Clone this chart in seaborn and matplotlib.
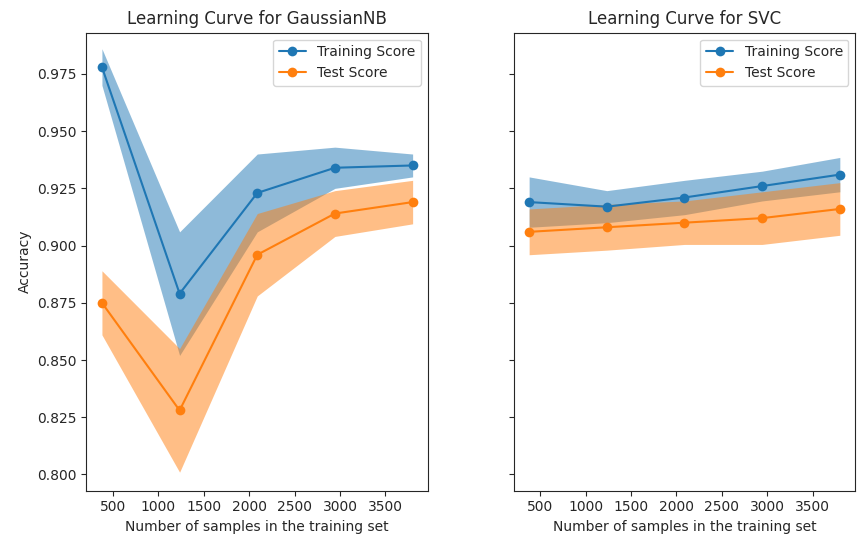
import numpy as np
import pandas as pd
import matplotlib.pyplot as plt
import seaborn as sns

sizes = [379, 1234, 2089, 2944, 3799]

# GaussianNB
nb_train = [0.978, 0.879, 0.923, 0.934, 0.935]
nb_train_sd = [0.008, 0.027, 0.017, 0.009, 0.005]
nb_test = [0.875, 0.828, 0.896, 0.914, 0.919]
nb_test_sd = [0.014, 0.027, 0.018, 0.010, 0.0095]

# SVC
svc_train = [0.919, 0.917, 0.921, 0.926, 0.931]
svc_train_sd = [0.011, 0.007, 0.0075, 0.0065, 0.0075]
svc_test = [0.906, 0.908, 0.910, 0.912, 0.916]
svc_test_sd = [0.010, 0.010, 0.0095, 0.0115, 0.0115]

sns.set_style("ticks")
plt.rcParams['font.family'] = ['DejaVu Sans']

fig, axes = plt.subplots(1, 2, figsize=(8.64, 5.45), sharey=True)
models = [("GaussianNB", nb_train, nb_train_sd, nb_test, nb_test_sd),
          ("SVC", svc_train, svc_train_sd, svc_test, svc_test_sd)]

for ax, (name, tr, trs, te, tes) in zip(axes, models):
    for vals, sd, lab, col in [(tr, trs, "Training Score", "C0"), (te, tes, "Test Score", "C1")]:
        vals = np.array(vals)
        sd = np.array(sd)
        ax.fill_between(sizes, vals - sd, vals + sd, color=col, alpha=0.5, linewidth=0)
        sns.lineplot(x=sizes, y=vals, ax=ax, marker="o", markersize=7, markeredgewidth=0,
                     color=col, label=lab)
    ax.set_title(f"Learning Curve for {name}")
    ax.set_xlabel("Number of samples in the training set")
    ax.set_ylabel("Accuracy")
    ax.legend(loc="upper right")
    ax.set_xticks([500, 1000, 1500, 2000, 2500, 3000, 3500])
    ax.yaxis.set_tick_params(labelleft=True) if ax is axes[0] else None

axes[0].set_ylim(0.793, 0.993)
fig.subplots_adjust(left=0.1, right=0.99, bottom=0.1, top=0.94, wspace=0.25)
fig.savefig("out.png", dpi=100)
